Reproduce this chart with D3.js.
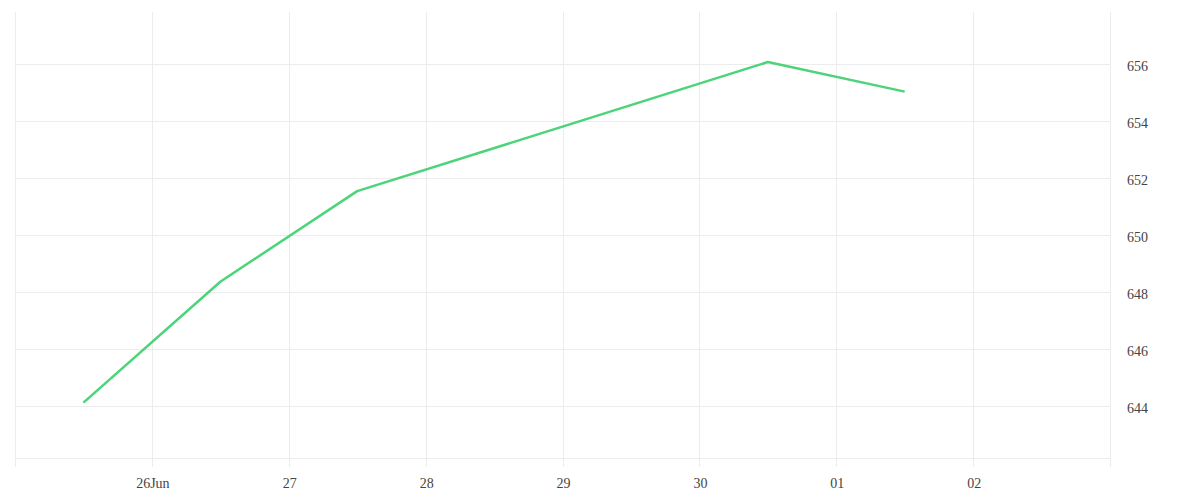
<!DOCTYPE html>
<html>
<head>
<meta charset="utf-8">
<script src="https://cdn.jsdelivr.net/npm/d3@7"></script>
<style>
  html, body { margin: 0; padding: 0; background: #ffffff; }
  svg { display: block; }
</style>
</head>
<body>
<svg id="chart" width="1200" height="500"></svg>
<script>
// ---- data ----
const dates = ["2014-06-25T12:00", "2014-06-26T12:00", "2014-06-27T12:00", "2014-06-30T12:00", "2014-07-01T12:00"];
const values = [644.12, 648.36, 651.54, 656.07, 655.03];
const yTicks = [644, 646, 648, 650, 652, 654, 656];
const xTickDates = ["2014-06-26", "2014-06-27", "2014-06-28", "2014-06-29", "2014-06-30", "2014-07-01", "2014-07-02"];
const xTickLabels = ["26Jun", "27", "28", "29", "30", "01", "02"];

(function () {
const parse = d3.utcParse("%Y-%m-%dT%H:%M");
const parseDay = d3.utcParse("%Y-%m-%d");
const points = dates.map((d, i) => ({ t: parse(d), v: values[i] }));

const mLeft = 15, mRight = 1110, mTop = 12, mBottom = 458;
const svg = d3.select("#chart");

const x = d3.scaleUtc()
  .domain([parseDay("2014-06-25"), parseDay("2014-07-03")])
  .range([mLeft, mRight]);
const y = d3.scaleLinear()
  .domain([642.175, 657.825])
  .range([mBottom, mTop]);

const grid = "#ececec";
const font = "'Liberation Serif', 'DejaVu Serif', serif";

// horizontal gridlines
svg.append("g").selectAll("line").data(yTicks).join("line")
  .attr("x1", mLeft).attr("x2", mRight)
  .attr("y1", d => Math.round(y(d)) + 0.5).attr("y2", d => Math.round(y(d)) + 0.5)
  .attr("stroke", grid).attr("stroke-width", 1);

// bottom axis line
svg.append("line")
  .attr("x1", mLeft).attr("x2", mRight)
  .attr("y1", mBottom + 0.5).attr("y2", mBottom + 0.5)
  .attr("stroke", grid).attr("stroke-width", 1);

// vertical gridlines (ticks extend below)
const vDates = [x.domain()[0], ...xTickDates.map(parseDay), x.domain()[1]];
svg.append("g").selectAll("line").data(vDates).join("line")
  .attr("x1", d => Math.round(x(d)) + 0.5).attr("x2", d => Math.round(x(d)) + 0.5)
  .attr("y1", mTop).attr("y2", mBottom + 9)
  .attr("stroke", grid).attr("stroke-width", 1);

// x labels
svg.append("g").selectAll("text").data(xTickDates).join("text")
  .attr("x", d => x(parseDay(d)) + 1)
  .attr("y", 488)
  .attr("text-anchor", "middle")
  .attr("font-family", font)
  .attr("font-size", 14)
  .attr("fill", "#444")
  .text((d, i) => xTickLabels[i]);

// y labels
svg.append("g").selectAll("text").data(yTicks).join("text")
  .attr("x", 1127)
  .attr("y", d => y(d) + 7)
  .attr("text-anchor", "start")
  .attr("font-family", font)
  .attr("font-size", 14)
  .attr("fill", "#444")
  .text(d => d);

// line
const line = d3.line().x(d => x(d.t)).y(d => y(d.v));
svg.append("path")
  .datum(points)
  .attr("d", line)
  .attr("fill", "none")
  .attr("stroke", "#4cd47a")
  .attr("stroke-width", 2.5)
  .attr("stroke-linejoin", "round");
})();
</script>
</body>
</html>
